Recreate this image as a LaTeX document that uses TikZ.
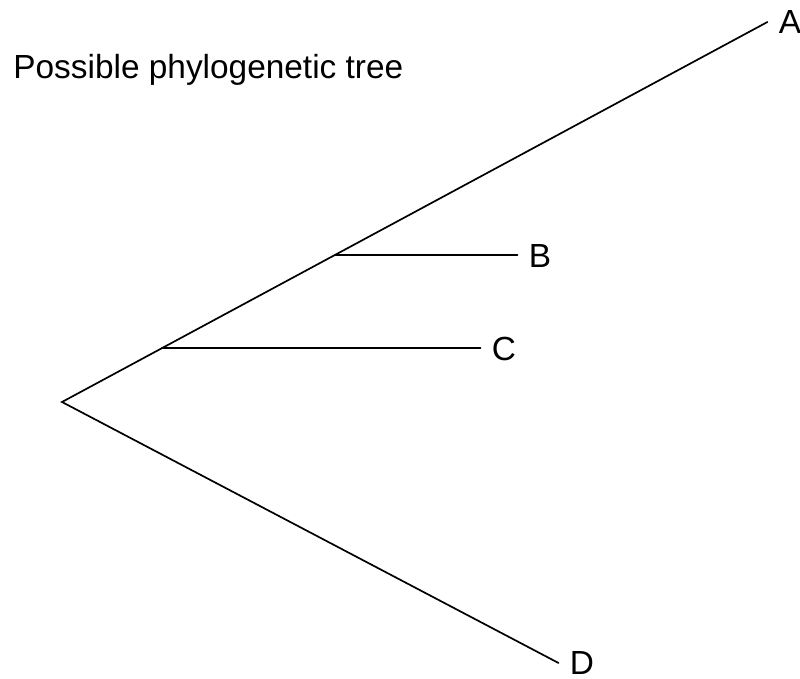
\documentclass[tikz,border=0pt]{standalone}
\usepackage{fontspec}
\setmainfont{Liberation Sans}
\usepackage{tikz}
\usetikzlibrary{positioning}

\begin{document}
\begin{tikzpicture}[x=0.5pt,y=-0.5pt,
    branch/.style={line width=0.85pt,line cap=round,line join=miter},
    leaf/.style={inner sep=5.5pt,font=\fontsize{16.7}{20}\selectfont},
    caption/.style={inner sep=0pt,anchor=base west,font=\fontsize{16.7}{20}\selectfont}]
  \useasboundingbox (0,0) rectangle (800,679);
  % title
  \node[caption] (title) at (13,79) {Possible phylogenetic tree};
  % root and branch points on the A line
  \coordinate (root) at (62,402);
  \coordinate (nodeC) at (162,348);
  \coordinate (nodeB) at (335,255);
  % leaves
  \node[leaf] (A) at (790,22) {A};
  \node[leaf] (B) at (540,256) {B};
  \node[leaf] (C) at (504,349) {C};
  \node[leaf] (D) at (582,663) {D};
  % branches
  \draw[branch] (A.west) -- (root) -- (D.west);
  \draw[branch] (nodeB) -- (nodeB -| B.west);
  \draw[branch] (nodeC) -- (nodeC -| C.west);
\end{tikzpicture}
\end{document}
